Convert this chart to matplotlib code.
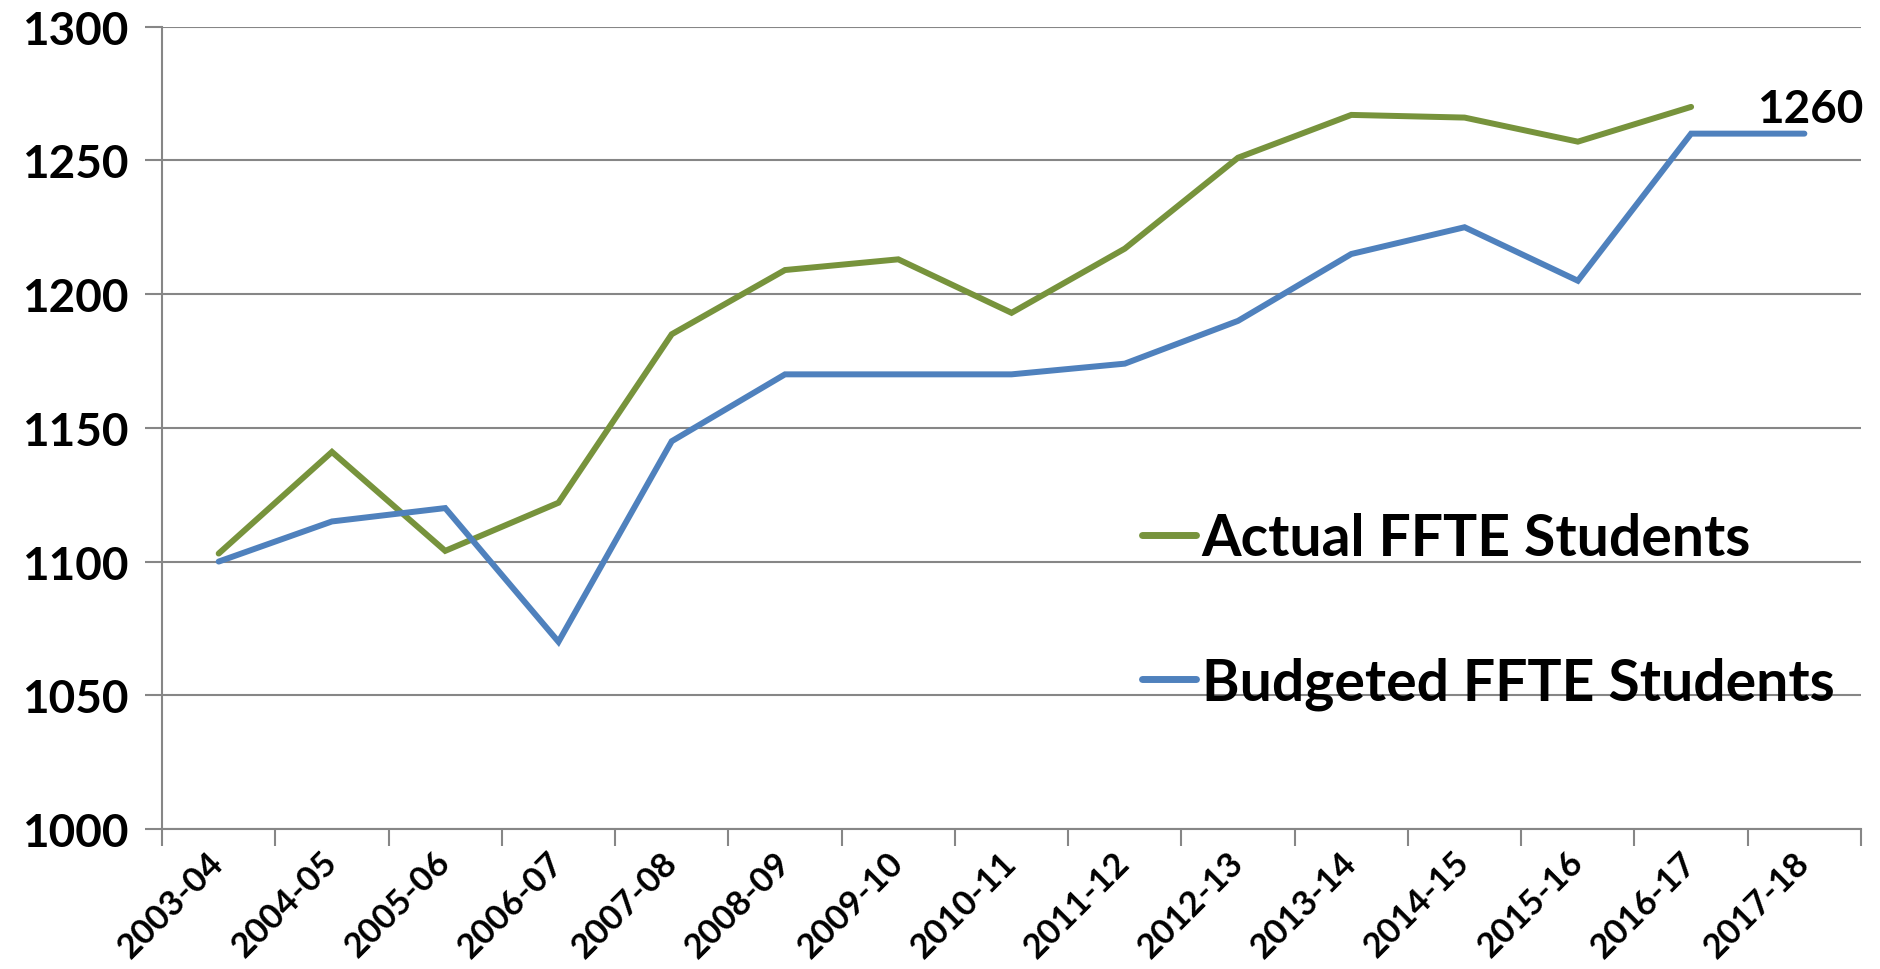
import numpy as np
import matplotlib.pyplot as plt

# data
years = ["2003-04", "2004-05", "2005-06", "2006-07", "2007-08", "2008-09", "2009-10",
         "2010-11", "2011-12", "2012-13", "2013-14", "2014-15", "2015-16", "2016-17", "2017-18"]
actual = [1103, 1141, 1104, 1122, 1185, 1209, 1213, 1193, 1217, 1251, 1267, 1266, 1257, 1270]
budgeted = [1100, 1115, 1120, 1070, 1145, 1170, 1170, 1170, 1174, 1190, 1215, 1225, 1205, 1260, 1260]
yticks = [1000, 1050, 1100, 1150, 1200, 1250, 1300]

green = "#77933C"
blue = "#4F81BD"
grid_grey = "#868686"

plt.rcParams['font.family'] = ['Lato', 'DejaVu Sans']
plt.rcParams['font.weight'] = 'bold'

fig = plt.figure(figsize=(18.8, 9.7), dpi=100)
ax = fig.add_axes([0.0862, 0.1443, 0.9037, 0.8272])

x = np.arange(len(years))
ax.plot(x[:len(actual)], actual, color=green, lw=4.3, label="Actual FFTE Students",
        solid_joinstyle='miter', solid_capstyle='round')
ax.plot(x, budgeted, color=blue, lw=4.3, label="Budgeted FFTE Students",
        solid_joinstyle='miter', solid_capstyle='round')

# data label on the last budget point
ax.annotate(str(budgeted[-1]), (x[-1], budgeted[-1]), xytext=(6, 4),
            textcoords='offset pixels', ha='center', va='bottom',
            fontsize=33, fontweight='bold')

ax.set_xlim(-0.5, len(years) - 0.5)
ax.set_ylim(1000, 1300)
ax.set_yticks(yticks)
ax.set_yticklabels([str(v) for v in yticks], fontsize=33, fontweight='bold')
ax.set_xticks(x)
ax.set_xticklabels(years, fontsize=25, fontweight='bold', rotation=45,
                   ha='right', va='center', rotation_mode='anchor')
ax.set_xticks(np.arange(-0.5, len(years)), minor=True)
ax.tick_params(axis='x', which='major', length=0, pad=20)
ax.tick_params(axis='x', which='minor', length=12, width=1.5, color=grid_grey)
ax.tick_params(axis='y', length=12, width=1.5, color=grid_grey, pad=12)

ax.grid(axis='y', color=grid_grey, lw=1.5)
ax.set_axisbelow(True)
for s in ['top', 'right']:
    ax.spines[s].set_visible(False)
for s in ['left', 'bottom']:
    ax.spines[s].set_color(grid_grey)
    ax.spines[s].set_linewidth(1.5)

leg = ax.legend(loc='center left', bbox_to_anchor=(0.56, 0.272), frameon=False,
                prop={'size': 41, 'weight': 'bold'}, handlelength=0.95,
                handletextpad=0.1, labelspacing=1.6, borderpad=0)
for h in leg.get_lines():
    h.set_linewidth(5)

fig.savefig("out.png", dpi=100)
